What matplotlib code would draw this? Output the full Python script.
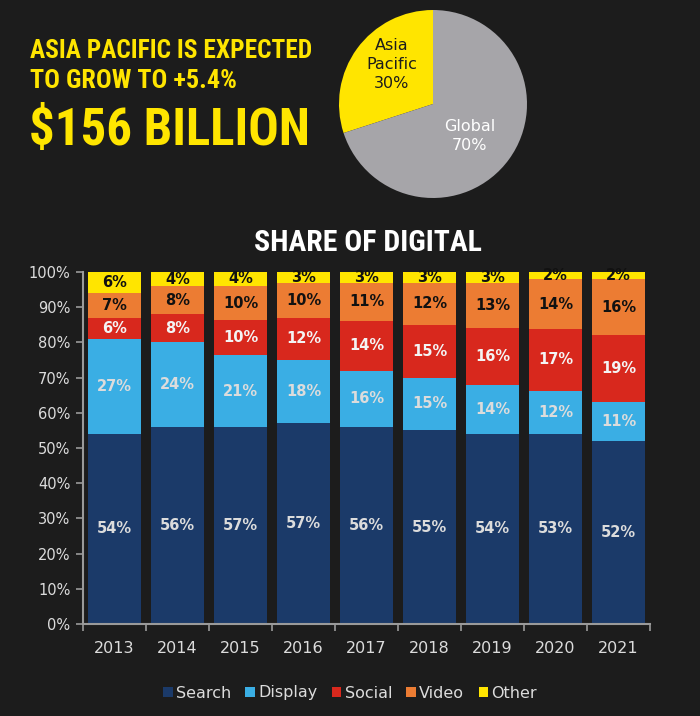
import numpy as np
import matplotlib.pyplot as plt
from matplotlib import font_manager

# Data
years = ['2013', '2014', '2015', '2016', '2017', '2018', '2019', '2020', '2021']
search = [54, 56, 57, 57, 56, 55, 54, 53, 52]
display = [27, 24, 21, 18, 16, 15, 14, 12, 11]
social = [6, 8, 10, 12, 14, 15, 16, 17, 19]
video = [7, 8, 10, 10, 11, 12, 13, 14, 16]
other = [6, 4, 4, 3, 3, 3, 3, 2, 2]
series_names = ['Search', 'Display', 'Social', 'Video', 'Other']

pie_labels = ['Asia\nPacific\n30%', 'Global\n70%']
pie_values = [30, 70]

bg = '#1c1c1c'
colours = ['#1b3a69', '#3aaee4', '#d8281d', '#ec7c33', '#ffe500']
label_colours = ['#dcdcdc', '#dcdcdc', '#f4f4f4', '#111111', '#111111']

# pick a narrow bold face for the headlines if one is installed
fonts = font_manager.fontManager.ttflist
names = {f.name for f in fonts}
head = dict(family='DejaVu Sans', fontweight='bold')
for nm in ['Roboto Condensed', 'Liberation Sans Narrow', 'Open Sans Condensed',
           'Noto Sans Condensed', 'DejaVu Sans Condensed']:
    if nm in names:
        head = dict(family=nm, fontweight='bold')
        break
else:
    if any(f.name == 'DejaVu Sans' and f.stretch == 'condensed' for f in fonts):
        head = dict(family='DejaVu Sans', fontweight='bold', fontstretch='condensed')

fig = plt.figure(figsize=(7, 7.16), dpi=100, facecolor=bg)
renderer = fig.canvas.get_renderer()

def fit_text(x0, x1, y, s, size, color, ha='left'):
    # place a headline and size it to span the same width as in the reference
    xx = x0 if ha == 'left' else (x0 + x1) / 2
    t = fig.text(xx/700, 1-y/716, s, color=color, fontsize=size, va='center', ha=ha, **head)
    w = t.get_window_extent(renderer).width
    t.set_fontsize(size * (x1 - x0) / w)
    return t

fit_text(30, 312, 51, 'ASIA PACIFIC IS EXPECTED', 17, '#ffe500')
fit_text(30, 238, 81, 'TO GROW TO +5.4%', 17, '#ffe500')
fit_text(29, 310, 131, '$156 BILLION', 33, '#ffe500')
fit_text(254, 482, 243, 'SHARE OF DIGITAL', 20, 'white', ha='center')

# Pie
axp = fig.add_axes([(433-94)/700, 1-(104+94)/716, 188/700, 188/716])
wedges, texts = axp.pie(pie_values, labels=pie_labels, colors=['#ffe500', '#a6a5a9'],
                        startangle=90, counterclock=True, labeldistance=0.57,
                        textprops=dict(fontsize=11.5, ha='center', va='center',
                                       linespacing=1.3))
texts[0].set_color('#1c1c1c')
texts[1].set_color('white')
texts[0].set_position((-0.44, 0.42))
texts[1].set_position((0.39, -0.34))
axp.set_xlim(-1, 1)
axp.set_ylim(-1, 1)
axp.set_aspect('equal')

# Stacked bars
ax = fig.add_axes([83/700, 1-624/716, 567/700, 352/716])
ax.set_facecolor(bg)
data = np.array([search, display, social, video, other], dtype=float)
shares = data / data.sum(axis=0) * 100
x = np.arange(len(years))
bottom = np.zeros(len(years))
for i in range(len(series_names)):
    ax.bar(x, shares[i], 0.85, bottom=bottom, color=colours[i], label=series_names[i])
    for j in range(len(years)):
        ax.text(x[j], bottom[j] + shares[i][j]/2, '%d%%' % data[i][j],
                ha='center', va='center', color=label_colours[i],
                fontsize=10.5, fontweight='bold')
    bottom += shares[i]

ax.set_xlim(-0.5, len(years) - 0.5)
ax.set_ylim(0, 100)
ax.set_yticks(np.arange(0, 101, 10))
ax.set_yticklabels(['%d%%' % v for v in range(0, 101, 10)])
ax.set_xticks(x)
ax.set_xticklabels(years)
ax.set_xticks(np.arange(-0.5, len(years)), minor=True)
ax.tick_params(axis='x', which='major', length=0, pad=12, labelsize=11.5, labelcolor='#dcdcdc')
ax.tick_params(axis='x', which='minor', length=5, color='#9a9a9a', width=1.2)
ax.tick_params(axis='y', length=5, color='#9a9a9a', width=1.2, labelsize=10.5,
               labelcolor='#dcdcdc', pad=4)
for s in ['top', 'right']:
    ax.spines[s].set_visible(False)
for s in ['left', 'bottom']:
    ax.spines[s].set_color('#9a9a9a')
    ax.spines[s].set_linewidth(1.5)

handles, labels = ax.get_legend_handles_labels()
leg = fig.legend(handles, labels, loc='center', bbox_to_anchor=(350/700, 1-693/716),
                 ncol=5, frameon=False, handlelength=0.6, handleheight=0.6,
                 handletextpad=0.2, columnspacing=0.9, fontsize=11.5)
for t in leg.get_texts():
    t.set_color('#dcdcdc')

fig.savefig('out.png', dpi=100, facecolor=bg)
